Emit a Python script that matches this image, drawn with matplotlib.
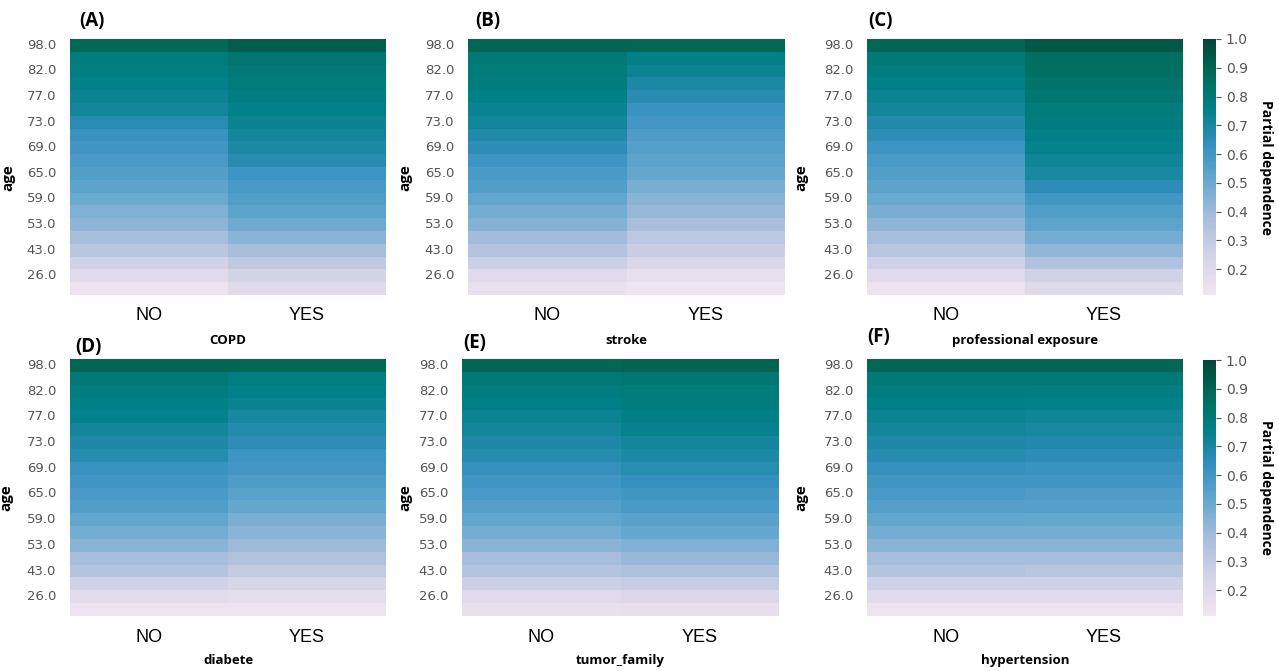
import numpy as np
import pandas as pd
import matplotlib
matplotlib.use('Agg')
import matplotlib.pyplot as plt
import matplotlib.colors as mcolors
import seaborn as sns

# age rows, top to bottom (only every other one is labelled in the figure)
ages = [98, 86, 82, 79, 77, 75, 73, 71, 69, 67, 65, 62, 59, 56, 53, 48, 43, 35, 26, 18]
cats = ['NO', 'YES']

copd_no = [0.88, 0.79, 0.77, 0.75, 0.73, 0.71, 0.66, 0.62, 0.60, 0.58, 0.56, 0.53, 0.50, 0.46, 0.43, 0.38, 0.33, 0.26, 0.19, 0.14]
copd_yes = [0.92, 0.82, 0.80, 0.79, 0.77, 0.75, 0.73, 0.71, 0.69, 0.66, 0.61, 0.58, 0.56, 0.53, 0.49, 0.44, 0.38, 0.31, 0.24, 0.19]

stroke_no = [0.89, 0.80, 0.79, 0.78, 0.76, 0.73, 0.71, 0.68, 0.65, 0.61, 0.58, 0.56, 0.52, 0.48, 0.45, 0.39, 0.34, 0.27, 0.19, 0.15]
stroke_yes = [0.89, 0.76, 0.73, 0.69, 0.66, 0.62, 0.59, 0.57, 0.55, 0.53, 0.51, 0.47, 0.44, 0.41, 0.37, 0.32, 0.28, 0.22, 0.15, 0.12]

prof_no = [0.89, 0.80, 0.78, 0.76, 0.73, 0.71, 0.68, 0.65, 0.61, 0.58, 0.56, 0.53, 0.50, 0.47, 0.43, 0.38, 0.33, 0.26, 0.19, 0.14]
prof_yes = [0.94, 0.86, 0.85, 0.83, 0.81, 0.79, 0.78, 0.76, 0.74, 0.72, 0.70, 0.65, 0.60, 0.56, 0.53, 0.48, 0.42, 0.35, 0.25, 0.20]

diab_no = [0.89, 0.80, 0.78, 0.76, 0.74, 0.71, 0.69, 0.66, 0.62, 0.60, 0.58, 0.56, 0.52, 0.48, 0.44, 0.38, 0.34, 0.26, 0.18, 0.14]
diab_yes = [0.89, 0.77, 0.75, 0.73, 0.70, 0.67, 0.65, 0.61, 0.59, 0.57, 0.54, 0.51, 0.47, 0.44, 0.40, 0.35, 0.30, 0.23, 0.17, 0.14]

tumor_no = [0.89, 0.80, 0.78, 0.76, 0.73, 0.71, 0.69, 0.66, 0.63, 0.60, 0.58, 0.55, 0.52, 0.48, 0.44, 0.38, 0.34, 0.27, 0.19, 0.15]
tumor_yes = [0.90, 0.81, 0.79, 0.78, 0.76, 0.74, 0.71, 0.69, 0.66, 0.63, 0.60, 0.58, 0.54, 0.51, 0.46, 0.41, 0.36, 0.29, 0.21, 0.16]

hyper_no = [0.89, 0.80, 0.78, 0.76, 0.73, 0.71, 0.69, 0.66, 0.63, 0.60, 0.58, 0.55, 0.52, 0.48, 0.44, 0.38, 0.34, 0.26, 0.19, 0.14]
hyper_yes = [0.89, 0.80, 0.77, 0.75, 0.72, 0.70, 0.68, 0.65, 0.62, 0.60, 0.57, 0.55, 0.51, 0.48, 0.44, 0.38, 0.33, 0.26, 0.19, 0.14]

panels = [
    ('(A)', 'COPD', copd_no, copd_yes),
    ('(B)', 'stroke', stroke_no, stroke_yes),
    ('(C)', 'professional exposure', prof_no, prof_yes),
    ('(D)', 'diabete', diab_no, diab_yes),
    ('(E)', 'tumor_family', tumor_no, tumor_yes),
    ('(F)', 'hypertension', hyper_no, hyper_yes),
]

W, H = 1279, 671
def rect(x0, y0, x1, y1):
    return [x0 / W, 1 - y1 / H, (x1 - x0) / W, (y1 - y0) / H]

# pixel boxes of the six heatmaps
boxes = [(70, 39, 386, 295), (468, 39, 785, 295), (867, 39, 1183, 295),
         (70, 359, 386, 616), (462, 359, 779, 616), (867, 359, 1183, 616)]
tag_pos = [(0.03, 1.07), (0.022, 1.07), (0.003, 1.07),
           (0.016, 1.045), (0.003, 1.062), (0.0, 1.086)]
age_x = [-0.174, -0.177, -0.187, -0.18, -0.158, -0.187]
xlab_y = [-0.152, -0.152, -0.152, -0.148, -0.148, -0.148]

vmin, vmax = 0.11, 1.0
base = plt.get_cmap('PuBuGn')
cmap = mcolors.LinearSegmentedColormap.from_list('pubugn_cut', base(np.linspace(0.1, 1.0, 256)))

bold = dict(fontweight='bold', family='Open Sans')

fig = plt.figure(figsize=(12.79, 6.71), dpi=100)
cax_top = fig.add_axes(rect(1203, 39, 1216, 295))
cax_bot = fig.add_axes(rect(1203, 360, 1216, 616))

for i, (tag, name, no, yes) in enumerate(panels):
    ax = fig.add_axes(rect(*boxes[i]))
    df = pd.DataFrame({'NO': no, 'YES': yes}, index=ages)
    cb = None
    if i == 2:
        cb = cax_top
    elif i == 5:
        cb = cax_bot
    sns.heatmap(df, ax=ax, cmap=cmap, vmin=vmin, vmax=vmax,
                cbar=cb is not None, cbar_ax=cb)
    ax.set_yticks(np.arange(0, len(ages), 2) + 0.5)
    ax.set_yticklabels(['%.1f' % a for a in ages[::2]], rotation=0,
                       fontsize=9.5, color='#555555', family='DejaVu Sans')
    ax.set_xticks([0.5, 1.5])
    ax.set_xticklabels(cats, fontsize=13, family='Liberation Sans', color='black')
    ax.tick_params(axis='both', length=0)
    ax.tick_params(axis='x', pad=9)
    ax.tick_params(axis='y', pad=10)
    ax.set_ylabel('age', fontsize=11, **bold)
    ax.yaxis.set_label_coords(age_x[i], 0.46)
    ax.set_xlabel(name, fontsize=9.5, **bold)
    ax.xaxis.set_label_coords(0.5, xlab_y[i])
    ax.text(tag_pos[i][0], tag_pos[i][1], tag, transform=ax.transAxes,
            fontsize=13.5, va='center', ha='left', **bold)

for cax in (cax_top, cax_bot):
    cax.set_yticks([0.2, 0.3, 0.4, 0.5, 0.6, 0.7, 0.8, 0.9, 1.0])
    cax.tick_params(labelsize=10, labelcolor='#555555', length=3.5, width=0.8, color='#555555')
    for t in cax.get_yticklabels():
        t.set_family('DejaVu Sans')
    cax.set_ylabel('Partial dependence', rotation=270, fontsize=10,
                   labelpad=18, **bold)

fig.savefig('out.png', dpi=100)
